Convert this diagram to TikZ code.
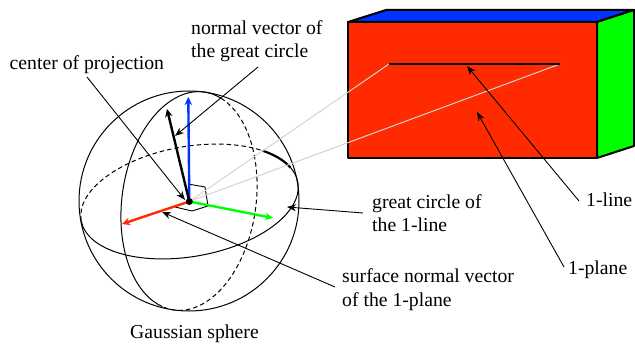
\documentclass[tikz,border=0pt]{standalone}
\usepackage{fontspec}
\setmainfont{Liberation Serif}
\usetikzlibrary{arrows.meta}
\definecolor{fred}{HTML}{FF2A00}
\definecolor{fblue}{HTML}{0033FF}
\definecolor{fgreen}{HTML}{00FF00}
\definecolor{ray}{HTML}{D4D4D4}
\tikzset{
  x=1pt,y=1pt,
  lbl/.style={inner sep=0pt,anchor=base west,font=\fontsize{19.7}{22}\selectfont},
  callout/.style={line width=0.9pt,-{Stealth[length=9pt,width=7pt]}},
  axis/.style={line width=2.4pt,-{Stealth[length=8pt,width=7.5pt]}},
  edge/.style={line width=2pt,draw=black,line join=round},
  thin circ/.style={line width=1pt},
  dashcirc/.style={line width=1pt,dash pattern=on 4.5pt off 3pt},
}
\begin{document}
\begin{tikzpicture}
\useasboundingbox (0,0) rectangle (635,343);
\fill[white] (0,0) rectangle (635,343);
% box
\coordinate (fa) at (348,321);
\coordinate (fb) at (597,321);
\coordinate (fc) at (597,185);
\coordinate (fd) at (348,185);
\coordinate (ba) at (386,333);
\coordinate (bb) at (634,333);
\coordinate (bc) at (634,197);
\filldraw[edge,fill=fblue] (fa)--(ba)--(bb)--(fb)--cycle;
\filldraw[edge,fill=fgreen] (fb)--(bb)--(bc)--(fc)--cycle;
\filldraw[edge,fill=fred] (fa)--(fb)--(fc)--(fd)--cycle;
% sphere
\coordinate (O) at (189.3,141.5);
\node[circle,draw,thin circ,minimum size=220pt,inner sep=0pt] (sphere) at (189,142) {};
% great circle of the 1-line
\begin{scope}[shift={(189.5,141.5)},rotate=10]
\draw[dashcirc] (180:110 and 55) arc[start angle=180,end angle=43,x radius=110,y radius=55];
\draw[line width=2.2pt] (43:110 and 55) arc[start angle=43,end angle=16.5,x radius=110,y radius=55];
\draw[thin circ] (16.5:110 and 55) arc[start angle=16.5,end angle=-180,x radius=110,y radius=55];
\end{scope}
% meridian
\begin{scope}[shift={(189,142)},rotate=-8]
\draw[thin circ] (75:67 and 110) arc[start angle=75,end angle=260,x radius=67,y radius=110];
\draw[dashcirc] (75:67 and 110) arc[start angle=75,end angle=-100,x radius=67,y radius=110];
\end{scope}
% right-angle marks
\coordinate (m1) at (188,159);
\coordinate (m2) at (205,156);
\coordinate (m3) at (208,137);
\coordinate (m4) at (192,132);
\coordinate (m5) at (175,136);
\draw[line width=0.9pt] (m1)--(m2)--(m3)--(m4)--(m5);
% rays
\coordinate (la) at (389,279);
\coordinate (lb) at (560,279);
\draw[ray,line width=1pt] (O)--(la);
\draw[ray,line width=1pt] (O)--(lb);
\draw[line width=2.2pt] (la)--(lb);
% axes
\coordinate (tblue) at (188.3,246);
\coordinate (tblack) at (167,234);
\coordinate (tred) at (122,119);
\coordinate (tgreen) at (273,125);
\draw[axis,fblue] (O)--(tblue);
\draw[axis,black] (O)--(tblack);
\draw[axis,fred] (O)--(tred);
\draw[axis,fgreen] (O)--(tgreen);
\node[circle,fill=black,minimum size=7pt,inner sep=0pt] (Odot) at (O) {};
% labels
\node[lbl] (tnv1) at (191,308) {normal vector of};
\node[lbl] (tnv2) at (191,285) {the great circle};
\node[lbl] (tcp) at (9.5,273) {center of projection};
\node[lbl] (tgc1) at (372,134) {great circle of};
\node[lbl] (tgc2) at (372,111) {the 1-line};
\node[lbl] (tsn1) at (342,60) {surface normal vector};
\node[lbl] (tsn2) at (342,37) {of the 1-plane};
\node[lbl] (tgs) at (130,5) {Gaussian sphere};
\node[lbl] (tl) at (586,136) {1-line};
\node[lbl] (tp) at (568,68) {1-plane};
% callouts
\coordinate (c1s) at (87,266);
\coordinate (c1e) at (185,143);
\coordinate (c2s) at (258,276);
\coordinate (c2e) at (175,207);
\coordinate (c3s) at (363,130);
\coordinate (c3e) at (287,136);
\coordinate (c4s) at (335,56);
\coordinate (c4e) at (162,131);
\coordinate (c5s) at (579,142);
\coordinate (c5e) at (467,277);
\coordinate (c6s) at (564,76);
\coordinate (c6e) at (477,231);
\draw[callout] (c1s)--(c1e);
\draw[callout] (c2s)--(c2e);
\draw[callout] (c3s)--(c3e);
\draw[callout] (c4s)--(c4e);
\draw[callout] (c5s)--(c5e);
\draw[callout] (c6s)--(c6e);
\end{tikzpicture}
\end{document}
